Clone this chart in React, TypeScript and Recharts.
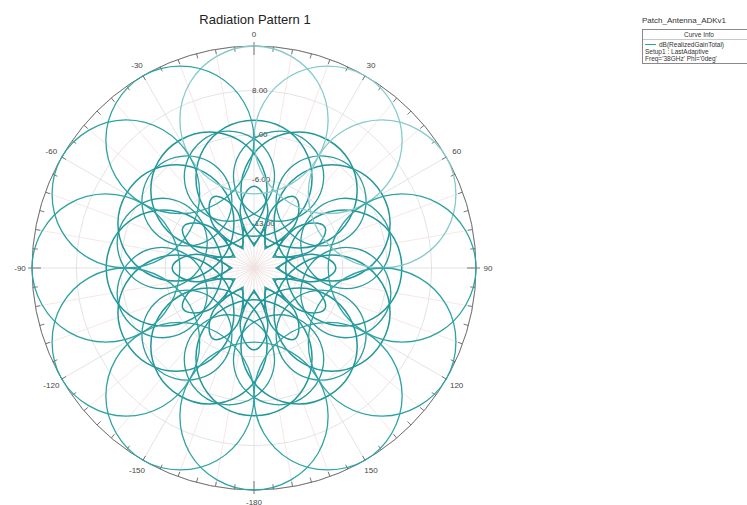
import React from "react";
import { RadarChart, Radar, PolarGrid, PolarAngleAxis, PolarRadiusAxis } from "recharts";

// axis ticks
const angleLabels = [0, 30, 60, 90, 120, 150, -180, -150, -120, -90, -60, -30];
const angleMarks = Array.from({ length: 72 }, (_, i) => -180 + i * 5);
const radiusTicks = [-20, -13, -6, 1, 8, 15];

// big outer lobes: offset from lobe axis (deg) and gain (dB)
const outerLobeOffset = [0, 9.9, 19.1, 26.6, 30.0, 23.8, 0, -23.8, -30.0, -26.6, -19.1, -9.9];
const outerLobeGain = [15, 13.9, 10.9, 6.1, 0.2, -5.5, -8.3, -5.5, 0.2, 6.1, 10.9, 13.9];
const outerLobeDirs = [0, 30, 60, 90, 120, 150, 180, -150, -120, -90, -60, -30];
const outerLobeLight = [0, 30, 60];

// middle lobes
const midLobeOffset = [0, 11.7, 22.9, 32.8, 39.5, 36.1, 0, -36.1, -39.5, -32.8, -22.9, -11.7];
const midLobeGain = [3.3, 2.6, 0.4, -3.1, -7.5, -12.2, -15.0, -12.2, -7.5, -3.1, 0.4, 2.6];
const midLobeDirs = [0, 30, 60, 90, 120, 150, 180, -150, -120, -90, -60, -30];

// side lobes between the middle ones
const sideLobeOffset = [0, 9.5, 18.4, 25.4, 28.3, 21.9, 0, -21.9, -28.3, -25.4, -18.4, -9.5];
const sideLobeGain = [2.1, 1.4, -0.5, -3.4, -7.0, -10.5, -12.1, -10.5, -7.0, -3.4, -0.5, 1.4];
const sideLobeDirs = [15, 45, 75, 105, 135, 165, -165, -135, -105, -75, -45, -15];

// inner petals
const petalOffset = [0, 6.9, 13.4, 14.0, 10.0, 0, -10.0, -14.0, -13.4, -6.9];
const petalGain = [-7.1, -8.2, -10.6, -12.9, -15.0, -16.1, -15.0, -12.9, -10.6, -8.2];
const petalDirs = [0, 30, 60, 90, 120, 150, 180, -150, -120, -90, -60, -30];

// central star
const starTheta = [0, 15, 30, 45, 60, 75, 90, 105, 120, 135, 150, 165, -180, -165, -150, -135, -120, -105, -90, -75, -60, -45, -30, -15];
const starGain = [-16.5, -13.4, -16.5, -13.4, -16.5, -13.4, -16.5, -13.4, -16.5, -13.4, -16.5, -13.4, -16.5, -13.4, -16.5, -13.4, -16.5, -13.4, -16.5, -13.4, -16.5, -13.4, -16.5, -13.4];

const W = 510;
const H = 505;
const CX = 254;
const CY = 268;
const R = 222;
const FONT = "'Liberation Sans', Arial, sans-serif";

const wrap = (a: number) => (a >= 180 ? a - 360 : a < -180 ? a + 360 : a);

const lobeRows = (dir: number, offs: number[], gains: number[]) =>
  offs.map((o, i) => ({ theta: wrap(dir + o), gain: gains[i] }));

const starRows = starTheta.map((t, i) => ({ theta: t, gain: starGain[i] }));

const smoothPath = (pts: { x: number; y: number }[]) => {
  const n = pts.length;
  let d = `M${pts[0].x},${pts[0].y}`;
  for (let i = 0; i < n; i++) {
    const p0 = pts[(i - 1 + n) % n];
    const p1 = pts[i];
    const p2 = pts[(i + 1) % n];
    const p3 = pts[(i + 2) % n];
    const c1x = p1.x + (p2.x - p0.x) / 6;
    const c1y = p1.y + (p2.y - p0.y) / 6;
    const c2x = p2.x - (p3.x - p1.x) / 6;
    const c2y = p2.y - (p3.y - p1.y) / 6;
    d += ` C${c1x},${c1y} ${c2x},${c2y} ${p2.x},${p2.y}`;
  }
  return d + "Z";
};

const AngleTick = (props: any) => {
  const { x, y, payload } = props;
  const v = payload.value;
  const dx = x - CX;
  const dy = y - CY;
  const len = Math.hypot(dx, dy) || 1;
  const ux = dx / len;
  const uy = dy / len;
  const major = v % 90 === 0;
  const r0 = major ? R - 9 : R - 5;
  const r1 = major ? R + 4 : R;
  const labelled = angleLabels.includes(v);
  const pink = v % 10 === 0 && !labelled;
  return (
    <g>
      {pink && (
        <line x1={CX} y1={CY} x2={CX + ux * R} y2={CY + uy * R} stroke="#f5e0e0" strokeWidth={0.8} />
      )}
      <line x1={CX + ux * r0} y1={CY + uy * r0} x2={CX + ux * r1} y2={CY + uy * r1} stroke="#555" strokeWidth={0.8} />
      {labelled && (
        <text
          x={CX + ux * 234}
          y={CY + uy * 234}
          textAnchor="middle"
          dominantBaseline="central"
          fontSize={8}
          fill="#444"
          fontFamily={FONT}
        >
          {v}
        </text>
      )}
    </g>
  );
};

const RadiusTick = (props: any) => {
  const { x, y, payload } = props;
  const v = payload.value;
  if (v === -20 || v === 15) return <g />;
  return (
    <text x={x - 2} y={y} textAnchor="start" dominantBaseline="central" fontSize={8} fill="#444" fontFamily={FONT}>
      {v.toFixed(2)}
    </text>
  );
};

const Curve = ({ rows, color, width }: { rows: { theta: number; gain: number }[]; color: string; width: number }) => (
  <div style={{ position: "absolute", left: 0, top: 0 }}>
    <RadarChart width={W} height={H} cx={CX} cy={CY} outerRadius={R} startAngle={270} endAngle={-90} data={rows} margin={{ top: 0, right: 0, bottom: 0, left: 0 }}>
      <PolarAngleAxis type="number" dataKey="theta" domain={[-180, 180]} allowDataOverflow hide tick={false} axisLine={false} tickLine={false} />
      <PolarRadiusAxis type="number" domain={[-20, 15]} allowDataOverflow hide tick={false} axisLine={false} />
      <Radar
        dataKey="gain"
        isAnimationActive={false}
        fill="none"
        stroke={color}
        shape={(p: any) => <path d={smoothPath(p.points)} fill="none" stroke={color} strokeWidth={width} />}
      />
    </RadarChart>
  </div>
);

export default function App() {
  return (
    <div style={{ position: "absolute", left: 0, top: 0, width: 747, height: 505, background: "#fff", fontFamily: FONT }}>
      <div style={{ position: "absolute", left: 0, top: 0, width: W, height: H }}>
        <div style={{ position: "absolute", left: 0, top: 0 }}>
          <RadarChart width={W} height={H} cx={CX} cy={CY} outerRadius={R} startAngle={270} endAngle={-90} data={starRows} margin={{ top: 0, right: 0, bottom: 0, left: 0 }}>
            <PolarGrid gridType="circle" polarAngles={[0, 30, 60, 90, 120, 150, 180, 210, 240, 270, 300, 330]} stroke="#dcdcdc" strokeWidth={0.8} />
            <PolarAngleAxis
              type="number"
              dataKey="theta"
              domain={[-180, 180]}
              allowDataOverflow
              ticks={angleMarks}
              tick={<AngleTick />}
              tickLine={false}
              axisLineType="circle"
              axisLine={{ stroke: "#707070", strokeWidth: 1 }}
            />
            <PolarRadiusAxis
              angle={90}
              type="number"
              domain={[-20, 15]}
              allowDataOverflow
              ticks={radiusTicks}
              tick={<RadiusTick />}
              axisLine={false}
              tickLine={false}
            />
            <Radar dataKey="gain" isAnimationActive={false} fill="none" stroke="#24979a" strokeWidth={1.5} />
          </RadarChart>
        </div>
        {petalDirs.map((d) => (
          <Curve key={`p${d}`} rows={lobeRows(d, petalOffset, petalGain)} color="#24979a" width={1.5} />
        ))}
        {sideLobeDirs.map((d) => (
          <Curve key={`s${d}`} rows={lobeRows(d, sideLobeOffset, sideLobeGain)} color="#2b9c9e" width={1.3} />
        ))}
        {midLobeDirs.map((d) => (
          <Curve key={`m${d}`} rows={lobeRows(d, midLobeOffset, midLobeGain)} color="#22979a" width={1.5} />
        ))}
        {outerLobeDirs.map((d) => (
          <Curve
            key={`o${d}`}
            rows={lobeRows(d, outerLobeOffset, outerLobeGain)}
            color={outerLobeLight.includes(d) ? "#86caca" : "#2ea3a3"}
            width={1.3}
          />
        ))}
      </div>
      <div style={{ position: "absolute", left: 0, top: 12, width: W, textAlign: "center", fontSize: 13, color: "#222" }}>
        Radiation Pattern 1
      </div>
      <div style={{ position: "absolute", left: 642, top: 16, fontSize: 8, color: "#333" }}>Patch_Antenna_ADKv1</div>
      <div style={{ position: "absolute", left: 642, top: 29, width: 112, border: "1px solid #8a8a8a", fontSize: 6.5, color: "#333", lineHeight: "7px" }}>
        <div style={{ textAlign: "center", borderBottom: "1px solid #c8c8c8", padding: "1px 0" }}>Curve Info</div>
        <div style={{ padding: "1px 2px" }}>
          <div style={{ display: "flex", alignItems: "center", whiteSpace: "nowrap" }}>
            <span style={{ display: "inline-block", width: 11, height: 1, background: "#2ea3a3", marginRight: 3 }} />
            dB(RealizedGainTotal)
          </div>
          <div style={{ whiteSpace: "nowrap" }}>Setup1 : LastAdaptive</div>
          <div style={{ whiteSpace: "nowrap" }}>Freq='38GHz' Phi='0deg'</div>
        </div>
      </div>
    </div>
  );
}
